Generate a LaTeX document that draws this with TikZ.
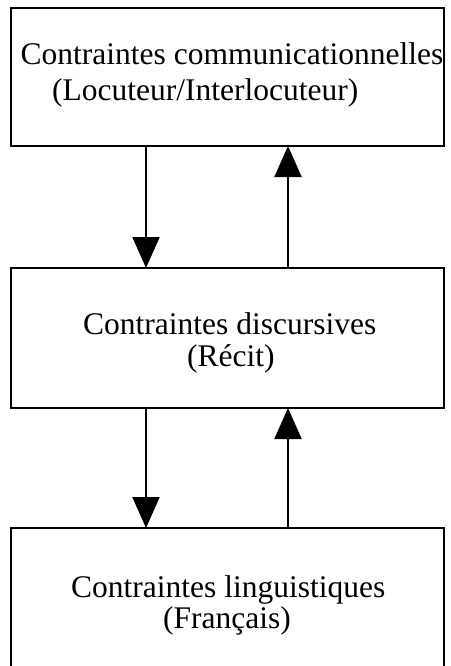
\documentclass[tikz,border=0pt]{standalone}
\usepackage{fontspec}
\setmainfont{Liberation Serif}
\usetikzlibrary{arrows.meta}
\begin{document}
\begin{tikzpicture}[x=1pt,y=-1pt,
  box/.style={draw, line width=2pt, rectangle, minimum width=433pt, inner sep=0pt, outer sep=0pt},
  lbl/.style={anchor=base west, inner sep=0pt, font=\fontsize{31.5}{35}\selectfont},
  arr/.style={line width=2pt, -{Triangle[width=27pt,length=31pt]}}]
\clip (0,0) rectangle (450,666);
\fill[white] (0,0) rectangle (450,666);
\node[box, minimum height=138pt] (top) at (227.5,77) {};
\node[box, minimum height=140pt] (mid) at (227.5,338) {};
\node[box, minimum height=180pt] (bot) at (227.5,618) {};
\node[lbl] (t1) at (20.5,65) {Contraintes communicationnelles};
\node[lbl] (t2) at (52,101) {(Locuteur/Interlocuteur)};
\node[lbl] (m1) at (83,334) {Contraintes discursives};
\node[lbl] (m2) at (187,366) {(Récit)};
\node[lbl] (b1) at (71,597) {Contraintes linguistiques};
\node[lbl] (b2) at (163,628) {(Français)};
\draw[arr] ([xshift=135pt]top.south west) -- ([xshift=135pt]mid.north west);
\draw[arr] ([xshift=277pt]mid.north west) -- ([xshift=277pt]top.south west);
\draw[arr] ([xshift=135pt]mid.south west) -- ([xshift=135pt]bot.north west);
\draw[arr] ([xshift=277pt]bot.north west) -- ([xshift=277pt]mid.south west);
\end{tikzpicture}
\end{document}
